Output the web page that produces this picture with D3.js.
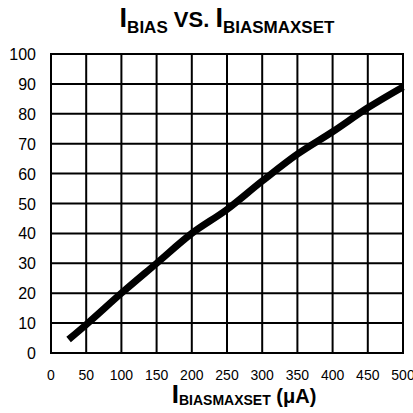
<!DOCTYPE html>
<html><head><meta charset="utf-8">
<script src="https://cdn.jsdelivr.net/npm/d3@7"></script>
<style>body{margin:0;background:#fff}svg{display:block}text{font-family:"Liberation Sans",Arial,sans-serif;fill:#000}</style>
</head><body>
<svg id="c" width="413" height="413"></svg>
<script>
const xValues = [25, 50, 100, 150, 200, 250, 300, 350, 400, 450, 500];
const yValues = [4.5, 9.5, 20, 30, 40, 48, 57.5, 66.5, 74, 82, 89];
const xTicks = [0, 50, 100, 150, 200, 250, 300, 350, 400, 450, 500];
const yTicks = [0, 10, 20, 30, 40, 50, 60, 70, 80, 90, 100];

const svg = d3.select("#c");
const m = {l: 51, r: 403, t: 54, b: 353};
const x = d3.scaleLinear().domain([0, 500]).range([m.l, m.r]);
const y = d3.scaleLinear().domain([0, 100]).range([m.b, m.t]);

const g = svg.append("g");
g.selectAll(".vg").data(xTicks).join("line")
  .attr("x1", d => x(d)).attr("x2", d => x(d)).attr("y1", m.t).attr("y2", m.b)
  .attr("stroke", "#000").attr("stroke-width", 2);
g.selectAll(".hg").data(yTicks).join("line")
  .attr("y1", d => y(d)).attr("y2", d => y(d)).attr("x1", m.l - 1).attr("x2", m.r + 1)
  .attr("stroke", "#000").attr("stroke-width", 2);

svg.append("g").selectAll("text").data(yTicks).join("text")
  .attr("x", 36).attr("y", d => y(d) + 6).attr("text-anchor", "end")
  .attr("font-size", 16).text(d => d);
svg.append("g").selectAll("text").data(xTicks).join("text")
  .attr("x", d => x(d)).attr("y", 380).attr("text-anchor", "middle")
  .attr("font-size", 14).text(d => d);

svg.append("path").datum(xValues.map((v, i) => [v, yValues[i]]))
  .attr("d", d3.line().x(d => x(d[0])).y(d => y(d[1])).curve(d3.curveMonotoneX))
  .attr("fill", "none").attr("stroke", "#000").attr("stroke-width", 7);

const t = svg.append("text").attr("x", 227).attr("y", 27).attr("text-anchor", "middle")
  .attr("font-weight", "bold");
t.append("tspan").attr("font-size", 27).text("I");
t.append("tspan").attr("font-size", 17).attr("dy", 6).text("BIAS");
t.append("tspan").attr("font-size", 22).attr("dy", -6).text(" VS. ");
t.append("tspan").attr("font-size", 27).text("I");
t.append("tspan").attr("font-size", 17).attr("dy", 6).text("BIASMAXSET");

const xt = svg.append("text").attr("x", 244).attr("y", 403).attr("text-anchor", "middle")
  .attr("font-weight", "bold");
xt.append("tspan").attr("font-size", 26).text("I");
xt.append("tspan").attr("font-size", 14).attr("dy", 2).text("BIASMAXSET");
xt.append("tspan").attr("font-size", 20).attr("dy", -2).text(" (μA)");
</script>
</body></html>
